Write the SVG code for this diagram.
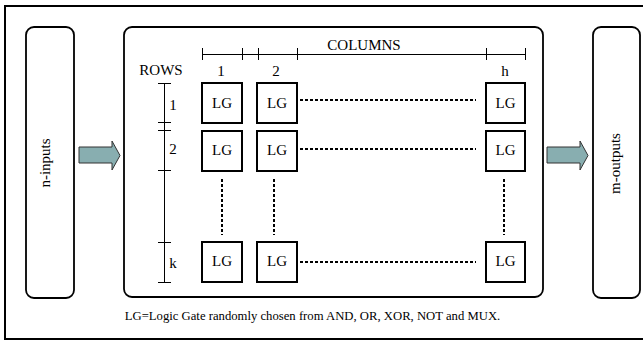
<svg xmlns="http://www.w3.org/2000/svg" width="643" height="341" viewBox="0 0 643 341">
<style>
.lbl{font-size:15px}
.lg rect{fill:#fff;stroke:#000;stroke-width:2}
.lg text{font-size:15px;text-anchor:middle}
.rb{fill:#fff;stroke:#000;stroke-width:1.8}
.br{stroke:#000;stroke-width:1;fill:none}
.dot{stroke:#000;stroke-width:2;stroke-dasharray:3 2;fill:none}
.arr{fill:#88aeb0;stroke:#333;stroke-width:1}
</style>
<g font-family="Liberation Serif, Tinos, DejaVu Serif, serif" fill="#000">
<rect x="5" y="6" width="660" height="333" fill="#fff" stroke="#000" stroke-width="2"/>
<g id="inputs"><rect class="rb" x="26" y="27" width="48" height="271" rx="8"/><text class="lbl" transform="translate(50,163) rotate(-90)" text-anchor="middle">n-inputs</text></g>
<g id="array"><rect class="rb" x="124" y="27" width="419" height="270" rx="8"/></g>
<g id="outputs"><rect class="rb" x="593" y="27" width="47" height="271" rx="8"/><text class="lbl" transform="translate(620,163.5) rotate(-90)" text-anchor="middle">m-outputs</text></g>
<g id="connectors">
<path class="arr" d="M79,147 H112 V141 L120,155.5 L112,170 V163 H79 Z"/>
<path class="arr" d="M547,147 H580 V141 L588,155.5 L580,170 V163 H547 Z"/>
</g>
<g id="columns-scale">
<text class="lbl" x="364" y="50" text-anchor="middle">COLUMNS</text>
<path class="br" d="M202,54.5 H525 M202.5,48 V60 M242.5,48 V60 M258.5,48 V60 M297.5,48 V60 M486.5,48 V60 M525.5,48 V60"/>
<text class="lbl" x="221" y="76" text-anchor="middle">1</text>
<text class="lbl" x="276" y="76" text-anchor="middle">2</text>
<text class="lbl" x="505" y="76" text-anchor="middle">h</text>
</g>
<g id="rows-scale">
<text class="lbl" x="161" y="75" text-anchor="middle">ROWS</text>
<path class="br" d="M164.5,83 V282 M158,83.5 H171 M158,122.5 H171 M158,130.5 H171 M158,170.5 H171 M158,242.5 H171 M158,282.5 H171"/>
<text class="lbl" x="173" y="110" text-anchor="middle">1</text>
<text class="lbl" x="173" y="154" text-anchor="middle">2</text>
<text class="lbl" x="173" y="268" text-anchor="middle">k</text>
</g>
<g id="lg-1-1" class="lg"><rect x="202" y="83" width="40" height="40"/><text x="222" y="108">LG</text></g>
<g id="lg-1-2" class="lg"><rect x="257" y="83" width="40" height="40"/><text x="277" y="108">LG</text></g>
<g id="lg-1-h" class="lg"><rect x="486" y="83" width="39" height="40"/><text x="505.5" y="108">LG</text></g>
<g id="lg-2-1" class="lg"><rect x="202" y="131" width="40" height="40"/><text x="222" y="155">LG</text></g>
<g id="lg-2-2" class="lg"><rect x="257" y="131" width="40" height="40"/><text x="277" y="155">LG</text></g>
<g id="lg-2-h" class="lg"><rect x="486" y="131" width="39" height="40"/><text x="505.5" y="155">LG</text></g>
<g id="lg-k-1" class="lg"><rect x="202" y="242" width="40" height="40"/><text x="222" y="266">LG</text></g>
<g id="lg-k-2" class="lg"><rect x="257" y="242" width="40" height="40"/><text x="277" y="266">LG</text></g>
<g id="lg-k-h" class="lg"><rect x="486" y="242" width="39" height="40"/><text x="505.5" y="266">LG</text></g>
<g id="ellipses">
<path class="dot" d="M300,100 H476 M300,149 H476 M300,262 H476"/>
<path class="dot" d="M222,179 V235 M274,179 V235 M504,179 V235"/>
</g>
<text x="312.5" y="320" font-size="12.7" text-anchor="middle">LG=Logic Gate randomly chosen from AND, OR, XOR, NOT and MUX.</text>
</g>
</svg>
